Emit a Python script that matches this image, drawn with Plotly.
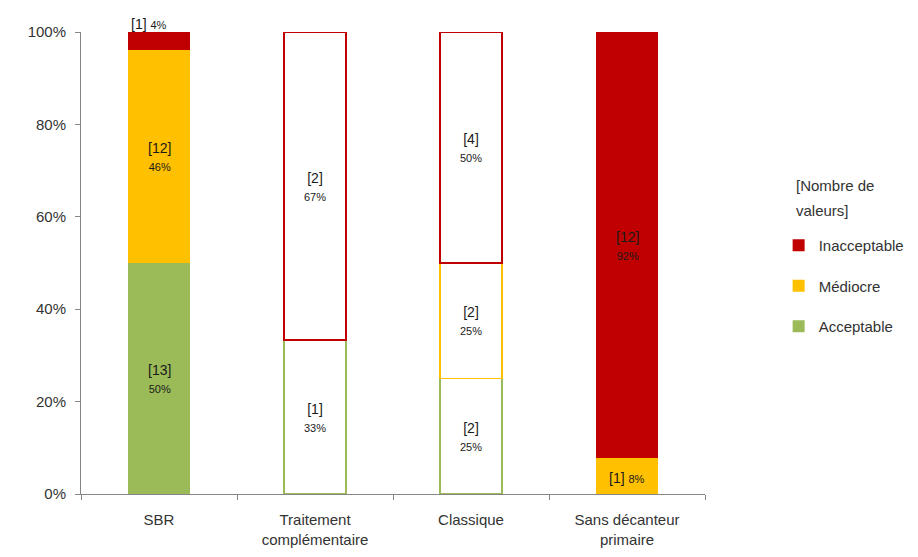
import plotly.graph_objects as go

categories = ["SBR", "Traitement<br>complémentaire", "Classique", "Sans décanteur<br>primaire"]
statuses = ["Acceptable", "Médiocre", "Inacceptable"]
colors = {"Acceptable": "#9BBB59", "Médiocre": "#FFC000", "Inacceptable": "#C00000"}
legend_rank = {"Inacceptable": 1, "Médiocre": 2, "Acceptable": 3}

# [nombre de valeurs] per category
counts = {
    "Acceptable": [13, 1, 2, 0],
    "Médiocre": [12, 0, 2, 1],
    "Inacceptable": [1, 2, 4, 12],
}
# percentages as printed on the chart
pct_labels = {
    "Acceptable": [50, 33, 25, 0],
    "Médiocre": [46, 0, 25, 8],
    "Inacceptable": [4, 67, 50, 92],
}
filled = [True, False, False, True]

y_ticks = [0, 20, 40, 60, 80, 100]
y_ticktext = ["0%", "20%", "40%", "60%", "80%", "100%"]

totals = [sum(counts[s][i] for s in statuses) for i in range(len(categories))]

fig = go.Figure()
annotations = []
base = [0.0] * len(categories)

for s in statuses:
    pct = [100.0 * c / t for c, t in zip(counts[s], totals)]
    fill = [colors[s] if f else "white" for f in filled]
    lw = [0 if (f or c == 0) else 1.5 for f, c in zip(filled, counts[s])]
    fig.add_trace(go.Bar(
        x=categories, y=pct, name=s, legendgroup=s, legendrank=legend_rank[s],
        marker=dict(color=fill, line=dict(color=colors[s], width=lw)),
        hoverinfo="skip",
    ))
    for i, (c, p) in enumerate(zip(counts[s], pct)):
        if c == 0:
            continue
        lab = pct_labels[s][i]
        if p < 6:
            annotations.append(dict(
                x=categories[i], y=base[i] + p, yanchor="bottom", xshift=-10, yshift=-2,
                text="[%d] <span style='font-size:11px'>%d%%</span>" % (c, lab),
                showarrow=False, font=dict(size=14, color="#1a1a1a")))
        elif p < 12:
            annotations.append(dict(
                x=categories[i], y=base[i] + p / 2, yshift=-2,
                text="[%d] <span style='font-size:11px'>%d%%</span>" % (c, lab),
                showarrow=False, font=dict(size=14, color="#1a1a1a")))
        else:
            annotations.append(dict(
                x=categories[i], y=base[i] + p / 2,
                text="[%d]<br><span style='font-size:11px'>%d%%</span>" % (c, lab),
                showarrow=False, font=dict(size=14, color="#1a1a1a")))
        base[i] += p

# legend title drawn as text so it lines up with the symbols
for k, line in enumerate(["[Nombre de", "valeurs]"]):
    annotations.append(dict(
        xref="paper", yref="paper", x=1.142, y=(494 - 185 - 25 * k) / 462.0,
        xanchor="left", yanchor="middle", text=line, showarrow=False,
        font=dict(size=15, color="#333333")))

fig.update_layout(
    barmode="stack",
    bargap=0.6,
    width=910, height=549,
    margin=dict(l=73, r=213, t=24, b=63, autoexpand=False),
    plot_bgcolor="white", paper_bgcolor="white",
    font=dict(family="Liberation Sans, Arial, sans-serif", size=15, color="#333333"),
    annotations=annotations,
    legend=dict(
        traceorder="grouped", tracegroupgap=18,
        x=1.118, xanchor="left", y=(494 - 229) / 462.0, yanchor="top",
        font=dict(size=15),
    ),
    showlegend=True,
)
fig.update_yaxes(
    range=[0, 100], tickvals=y_ticks, ticktext=y_ticktext,
    showgrid=False, showline=True, linecolor="#868686", linewidth=1,
    ticks="outside", ticklen=5, tickcolor="#868686", zeroline=False,
    ticklabelstandoff=6, automargin=False,
)
fig.update_xaxes(
    showgrid=False, showline=True, linecolor="#868686", linewidth=1,
    ticks="outside", ticklen=5, tickcolor="#868686", tickson="boundaries",
    ticklabelstandoff=12, automargin=False,
)

fig.write_html("out.html")
